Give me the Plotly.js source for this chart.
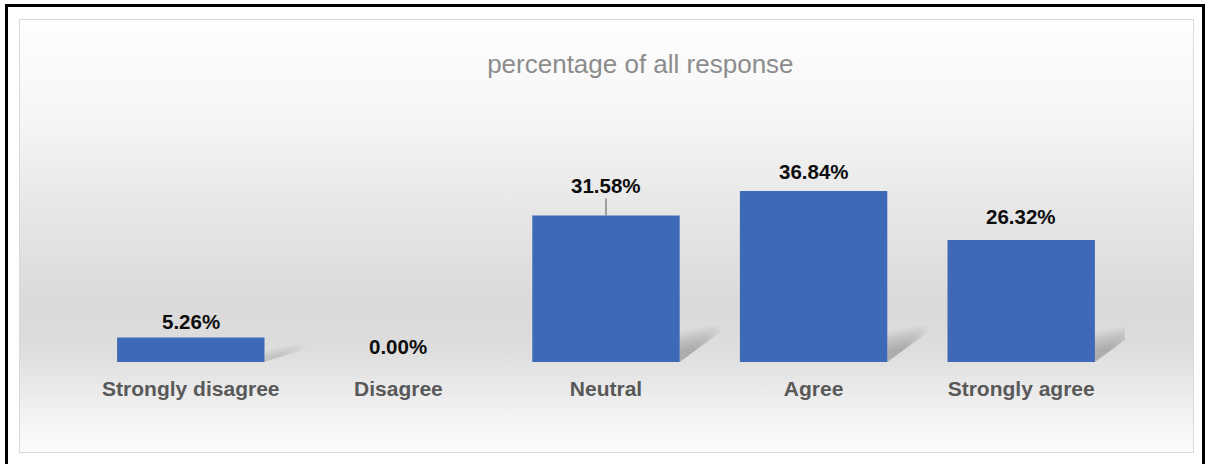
<!DOCTYPE html>
<html>
<head>
<meta charset="utf-8">
<script src="https://cdn.plot.ly/plotly-3.0.1.min.js"></script>
<style>
  html, body { margin: 0; padding: 0; background: #ffffff; overflow: hidden; }
  #wrap { position: relative; width: 1208px; height: 464px; overflow: hidden; }
  #frame { position: absolute; left: 5px; top: 4px; width: 1200px; height: 480px; border: 3px solid #000; box-sizing: border-box; }
  #box { position: absolute; left: 19px; top: 19px; width: 1175px; height: 434px; box-sizing: border-box;
         border: 1px solid #d9d9d9;
         background: linear-gradient(to bottom, #fefefe 0%, #f6f6f6 22%, #e6e6e6 45%, #dadada 66%, #dddddd 76%, #f3f3f3 92%, #fcfcfc 100%); }
  #chart { position: absolute; left: 0; top: 0; width: 1208px; height: 464px; }
</style>
</head>
<body>
<div id="wrap">
  <div id="frame"></div>
  <div id="box"></div>
  <div id="chart"></div>
</div>
<script>
const categories = ["Strongly disagree", "Disagree", "Neutral", "Agree", "Strongly agree"];
const percentages = [5.26, 0.00, 31.58, 36.84, 26.32];
const labelTexts = ["5.26%", "0.00%", "31.58%", "36.84%", "26.32%"];

// label styling (pixel offsets above bar top), leader line for Neutral
const labelLift = [16, 16, 30, 20, 23];
const labelLeader = [false, false, true, false, false];

const W = 1208, H = 464;
const margin = { l: 87, r: 83, t: 120, b: 102 };
const yMax = 52.16;
const bargap = 0.29;

const plotW = W - margin.l - margin.r;
const plotH = H - margin.t - margin.b;
const pxPerCat = plotW / categories.length;
const pxPerUnit = plotH / yMax;
const halfBar = (1 - bargap) / 2;

const trace = {
  type: "bar",
  x: categories,
  y: percentages,
  marker: { color: "#3e69b7", line: { width: 0 } },
  hoverinfo: "skip"
};

// Soft drop shadows behind bars (layered translucent wedges)
const shapes = [];
percentages.forEach((v, i) => {
  if (v <= 0) return;
  const hpx = v * pxPerUnit;
  const xr = i + halfBar;
  const n = 9;
  const strength = Math.min(1, hpx / 60);
  for (let k = 0; k < n; k++) {
    const s = 1 - k * 0.075;
    const up = Math.min(30, hpx * 0.5) * s;
    const dx = 42 * s / pxPerCat;
    const p = [
      [xr, 0],
      [xr, up / pxPerUnit],
      [xr + dx * 0.9, (up + 7 * s) / pxPerUnit],
      [xr + dx, (up + 1 * s) / pxPerUnit]
    ];
    shapes.push({
      type: "path", xref: "x", yref: "y", layer: "below",
      path: "M" + p.map(q => q[0] + "," + q[1]).join(" L") + " Z",
      fillcolor: "rgba(70,70,70," + (0.035 * strength).toFixed(4) + ")",
      line: { width: 0 }
    });
  }
});

const annotations = percentages.map((v, i) => {
  const a = {
    x: categories[i], y: v, xref: "x", yref: "y",
    text: labelTexts[i],
    font: { family: "Liberation Sans, Arial, sans-serif", size: 20.5, color: "#0d0d0d", weight: "bold" },
    showarrow: false,
    yanchor: "middle",
    yshift: labelLift[i]
  };
  if (labelLeader[i]) {
    a.showarrow = true;
    a.arrowhead = 0;
    a.arrowwidth = 1;
    a.arrowcolor = "#595959";
    a.ax = 0;
    a.ay = -labelLift[i];
    a.yshift = 0;
    a.standoff = 0;
  }
  return a;
});

const layout = {
  width: W, height: H,
  margin: margin,
  paper_bgcolor: "rgba(0,0,0,0)",
  plot_bgcolor: "rgba(0,0,0,0)",
  bargap: bargap,
  showlegend: false,
  title: {
    text: "percentage of all response",
    font: { family: "Liberation Sans, Arial, sans-serif", size: 26, color: "#8c8c8c" },
    x: 644 / W, xanchor: "center", xref: "paper",
    y: 1 - 64 / H, yanchor: "middle", yref: "container"
  },
  xaxis: {
    type: "category",
    range: [-0.5, categories.length - 0.5],
    autorange: false,
    showgrid: false, zeroline: false, showline: false,
    ticks: "outside", ticklen: 8, tickcolor: "rgba(0,0,0,0)",
    tickfont: { family: "Liberation Sans, Arial, sans-serif", size: 21, color: "#595959", weight: "bold" },
    fixedrange: true
  },
  yaxis: {
    range: [0, yMax],
    autorange: false,
    visible: false,
    showgrid: false, zeroline: false,
    fixedrange: true
  },
  shapes: shapes,
  annotations: annotations
};

Plotly.newPlot("chart", [trace], layout, { displayModeBar: false, staticPlot: true });
</script>
</body>
</html>
